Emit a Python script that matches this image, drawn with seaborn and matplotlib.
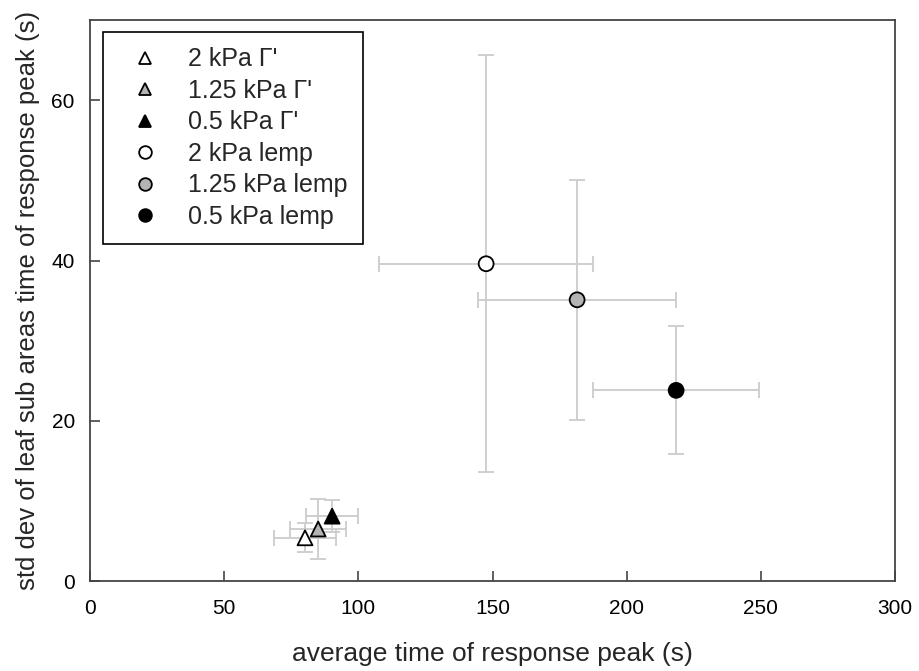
import seaborn as sns
import pandas as pd
import matplotlib.pyplot as plt

labels = ["2 kPa Γ'", "1.25 kPa Γ'", "0.5 kPa Γ'",
          "2 kPa lemp", "1.25 kPa lemp", "0.5 kPa lemp"]
mean_time = [80.1, 85.0, 90.2, 147.6, 181.5, 218.4]
sd_time = [5.4, 6.5, 8.1, 39.6, 35.1, 23.8]
xerr = [11.6, 10.5, 9.7, 40.0, 37.0, 31.0]
yerr = [1.8, 3.8, 2.0, 26.0, 15.0, 8.0]
fills = ["white", "#b4b4b4", "black", "white", "#b4b4b4", "black"]
shapes = ["^", "^", "^", "o", "o", "o"]

sns.set_style("ticks")
plt.rcParams['font.family'] = ['Liberation Sans', 'DejaVu Sans']

df = pd.DataFrame({'x': mean_time, 'y': sd_time, 'group': labels})

fig = plt.figure(figsize=(9.19, 6.71), dpi=100)
ax = fig.add_axes([0.098, 0.134, 0.876, 0.836])

# error bars first so markers sit on top
ax.errorbar(mean_time, sd_time, xerr=xerr, yerr=yerr, fmt='none',
            ecolor='#cccccc', elinewidth=1.3, capsize=6, capthick=1.3, zorder=1)

sns.scatterplot(data=df, x='x', y='y', hue='group', style='group',
                hue_order=labels, style_order=labels,
                palette=dict(zip(labels, fills)),
                markers=dict(zip(labels, shapes)),
                s=115, edgecolor='black', linewidth=1.3, zorder=3, ax=ax)

ax.set_xlim(0, 300)
ax.set_ylim(0, 70)
ax.set_xticks([0, 50, 100, 150, 200, 250, 300])
ax.set_yticks([0, 20, 40, 60])
ax.tick_params(direction='in', length=7, width=1.2, color='#444444',
               labelsize=15, labelcolor='black')
ax.tick_params(axis='x', pad=13)
ax.tick_params(axis='y', pad=11)
for s in ax.spines.values():
    s.set_color('#444444')
    s.set_linewidth(1.3)

ax.set_xlabel('average time of response peak (s)', fontsize=19, labelpad=17)
ax.set_ylabel('std dev of leaf sub areas time of response peak (s)', fontsize=18.5, labelpad=8)

leg = ax.legend(loc='upper left', bbox_to_anchor=(0.016, 0.979), borderaxespad=0,
                fontsize=18, frameon=True, fancybox=False, edgecolor='black',
                framealpha=1, borderpad=0.62, labelspacing=0.3,
                handlelength=2.1, handletextpad=0.7, markerscale=0.85)
leg.get_frame().set_linewidth(1.2)

fig.savefig('out.png', dpi=100)
